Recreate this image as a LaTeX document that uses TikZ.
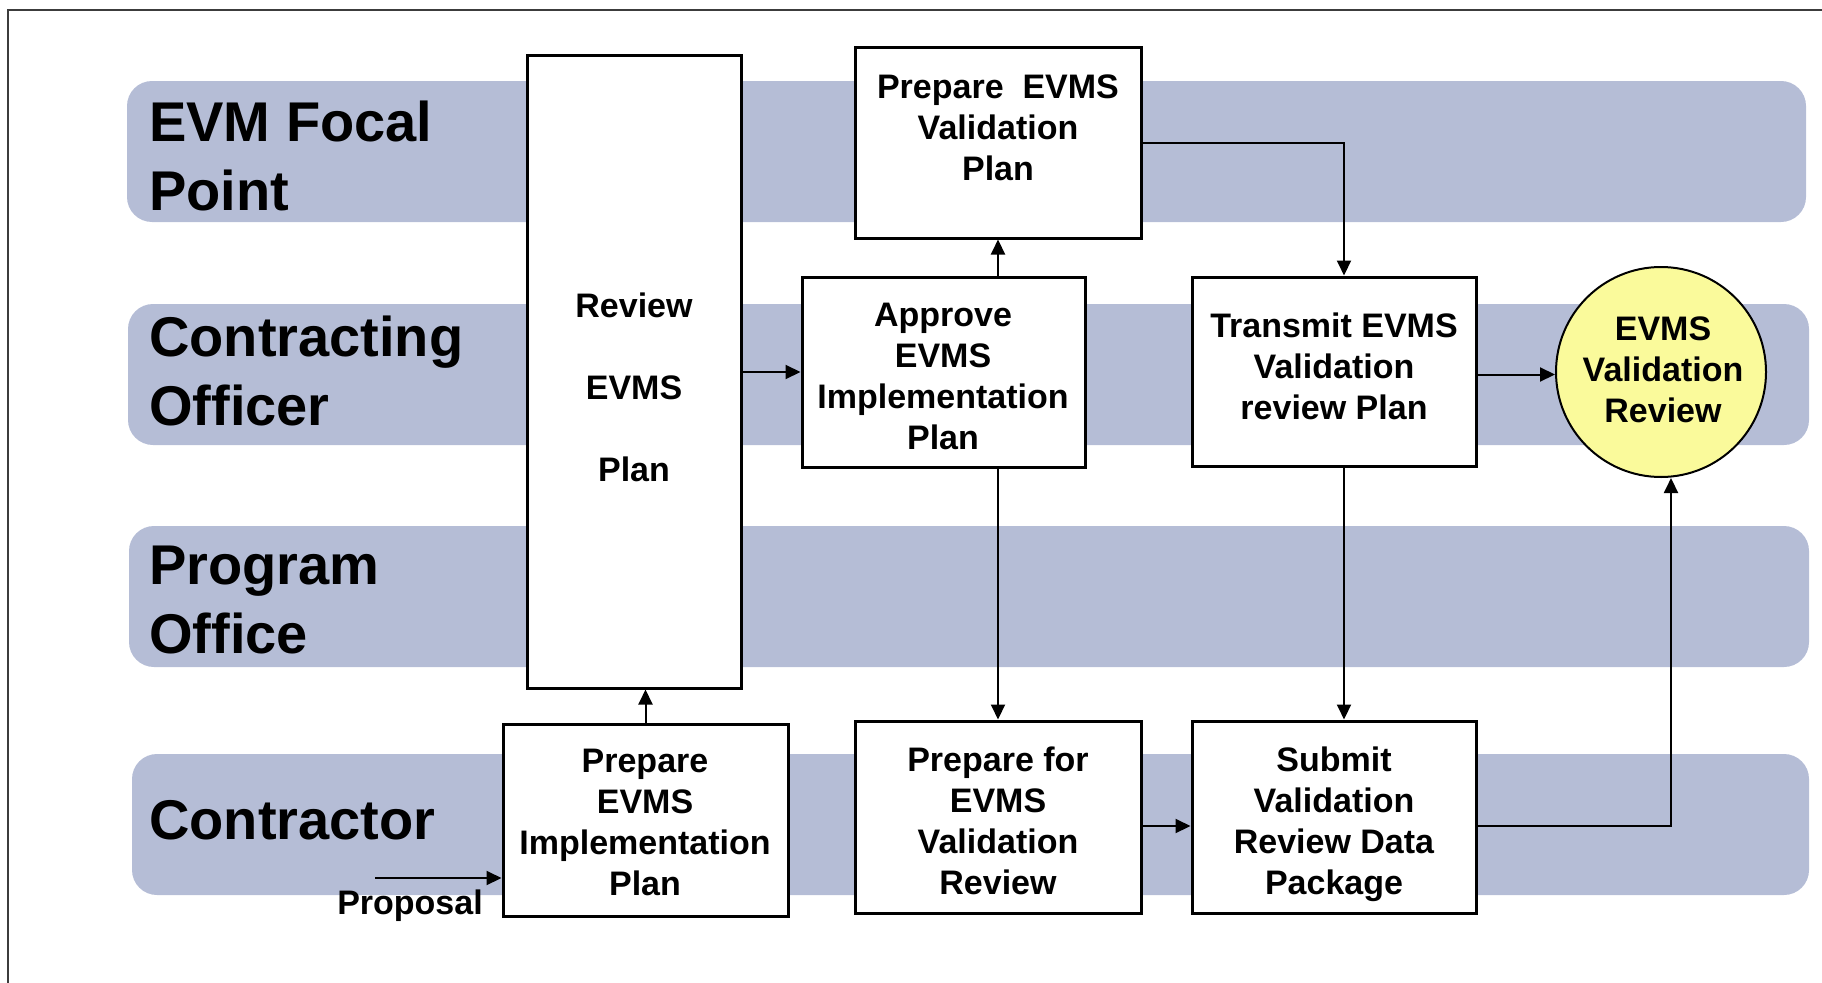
\documentclass[tikz,border=0pt]{standalone}
\usepackage{fontspec}
\setmainfont{Liberation Sans}
\usetikzlibrary{arrows.meta}
\definecolor{lanecol}{RGB}{181,189,214}
\definecolor{circcol}{RGB}{250,250,155}
\definecolor{framecol}{RGB}{60,60,60}
\newcommand{\bstr}{\rule[-11pt]{0pt}{41pt}}
\newcommand{\lstr}{\rule[-19pt]{0pt}{69pt}}
\begin{document}
\begin{tikzpicture}[x=1pt,y=-1pt,
  lanebg/.style={fill=lanecol, rounded corners=25pt},
  lanetxt/.style={anchor=north west, inner sep=0pt, align=left, font=\bfseries\fontsize{56}{69}\selectfont},
  stepbox/.style={draw, line width=3pt, fill=white, inner sep=0pt},
  boxtxt/.style={inner sep=0pt, align=center, font=\bfseries\fontsize{34}{41}\selectfont},
  arr/.style={line width=2pt, -{Triangle[length=15pt,width=14pt]}}
]
\useasboundingbox (0,0) rectangle (1822,982);
\clip (0,0) rectangle (1822,982);
% frame
\draw[line width=2pt, framecol] (8,1000) -- (8,10) -- (1840,10);
% lanes
\fill[lanebg] (127,81) rectangle (1806,222);
\fill[lanebg] (128,304) rectangle (1809,445);
\fill[lanebg] (129,526) rectangle (1809,667);
\fill[lanebg] (132,754) rectangle (1809,895);
% lane labels
\node[lanetxt] (l1) at (149,91) {\lstr EVM Focal\\\lstr Point};
\node[lanetxt] (l2) at (149,306) {\lstr Contracting\\\lstr Officer};
\node[lanetxt] (l3) at (149,534) {\lstr Program\\\lstr Office};
\node[lanetxt] (l4) at (149,789) {\lstr Contractor};
% boxes
\node[stepbox, minimum width=214pt, minimum height=632pt] (rev) at (634,372) {};
\node[stepbox, minimum width=286pt, minimum height=190pt] (pvp) at (998,143) {};
\node[stepbox, minimum width=283pt, minimum height=190pt] (app) at (943.5,372) {};
\node[stepbox, minimum width=284pt, minimum height=189pt] (trn) at (1334,371.5) {};
\node[circle, draw, line width=2pt, fill=circcol, minimum size=210pt, inner sep=0pt] (cir) at (1661,372) {};
\node[stepbox, minimum width=285pt, minimum height=192pt] (pip) at (645.5,820) {};
\node[stepbox, minimum width=286pt, minimum height=192pt] (pfr) at (998,817) {};
\node[stepbox, minimum width=284pt, minimum height=192pt] (sub) at (1334,817) {};
% texts
\node[boxtxt] (rev-t) at (634,389.5) {\bstr Review\\\bstr\\\bstr EVMS\\\bstr\\\bstr Plan};
\node[boxtxt] (pvp-t) at (998,129.5) {\bstr Prepare\ \ EVMS\\\bstr Validation\\\bstr Plan};
\node[boxtxt] (app-t) at (943,378) {\bstr Approve\\\bstr EVMS\\\bstr Implementation\\\bstr Plan};
\node[boxtxt] (trn-t) at (1334,369) {\bstr Transmit EVMS\\\bstr Validation\\\bstr review Plan};
\node[boxtxt] (cir-t) at (1663,371.5) {\bstr EVMS\\\bstr Validation\\\bstr Review};
\node[boxtxt] (pip-t) at (645,824) {\bstr Prepare\\\bstr EVMS\\\bstr Implementation\\\bstr Plan};
\node[boxtxt] (pfr-t) at (998,823) {\bstr Prepare for\\\bstr EVMS\\\bstr Validation\\\bstr Review};
\node[boxtxt] (sub-t) at (1334,823) {\bstr Submit\\\bstr Validation\\\bstr Review Data\\\bstr Package};
\node[boxtxt, anchor=base] (prop-t) at (410,914) {Proposal};
% connectors
\coordinate (prop) at (375,878);
\draw[arr] (prop) -- (prop -| pip.west);
\draw[arr] (pip.north) -- (pip.north |- rev.south);
\draw[arr] (rev.east) -- (rev.east -| app.west);
\draw[arr] (app.north -| pvp.south) -- (pvp.south);
\draw[arr] (pvp.east) -| ([xshift=10pt]trn.north);
\draw[arr] (app.south -| pfr.north) -- (pfr.north);
\draw[arr] ([xshift=10pt]trn.south) -- ([xshift=10pt]sub.north);
\draw[arr] ([yshift=-3pt]trn.east) -- ([yshift=-3pt]trn.east -| cir.west);
\draw[arr] ([yshift=-9pt]pfr.east) -- ([yshift=-9pt]pfr.east -| sub.west);
\draw[arr] ([yshift=-9pt]sub.east) -| ([xshift=10pt]cir.south);
\end{tikzpicture}
\end{document}
